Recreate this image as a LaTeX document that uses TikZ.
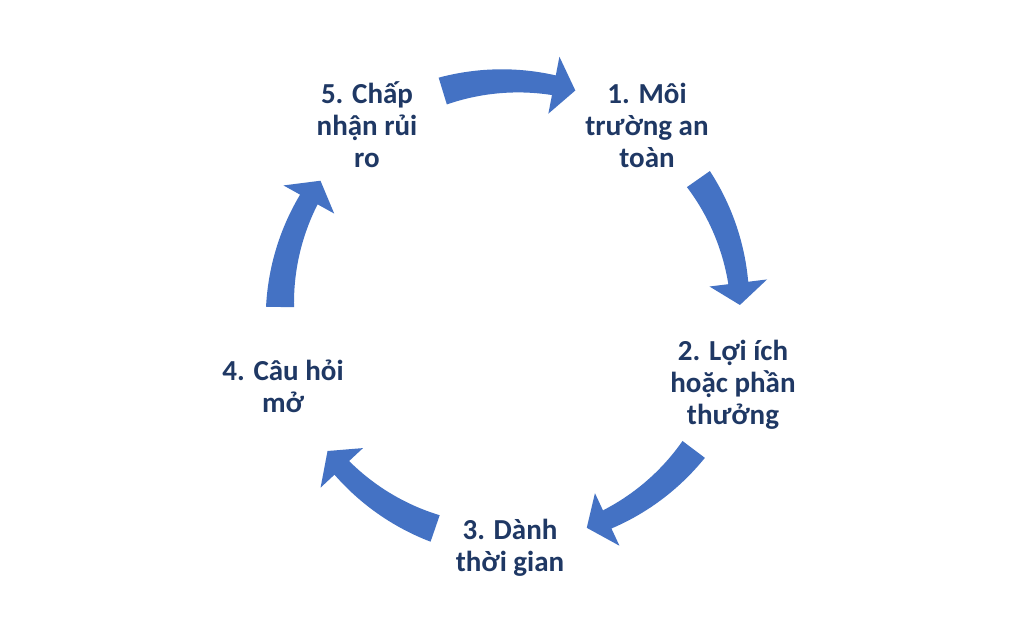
\documentclass[tikz,border=0pt]{standalone}
\usepackage{fontspec}
\setmainfont{Carlito}
\definecolor{arrowblue}{HTML}{4472C4}
\definecolor{textnavy}{HTML}{1F3864}
\tikzset{
  lbl/.style={align=center, text=textnavy, font=\bfseries\fontsize{29}{32}\selectfont, inner sep=0pt},
  blockarrow/.style={fill=arrowblue, draw=none}
}
\begin{document}
\begin{tikzpicture}[x=1pt,y=1pt]
\useasboundingbox[fill=white] (-510,-329) rectangle (514,311);
% labels
\node[lbl] (l1) at (137,186) {1. Môi\\trường an\\toàn};
\node[lbl] (l2) at (223,-74) {2. Lợi ích\\hoặc phần\\thưởng};
\node[lbl] (l3) at (0,-237) {3. Dành\\thời gian};
\node[lbl] (l4) at (-227,-75) {4. Câu hỏi\\mở};
\node[lbl] (l5) at (-143,186) {5. Chấp\\nhận rủi\\ro};
% curved, slightly tapering block arrows
\foreach \m in {90,18,-54,-126,162} {
  \pgfmathsetmacro\aa{\m+17}
  \pgfmathsetmacro\ab{\m-16.5}
  \pgfmathsetmacro\ah{\m-16.5+5.5}
  \fill[blockarrow]
     plot[domain=\aa:\ah, samples=24] (\x:{230+14-4*(\aa-\x)/(\aa-\ah)})
     -- (\ah:259) -- (\ab:230) -- (\ah:201)
     -- plot[domain=\ah:\aa, samples=24] (\x:{230-14+4*(\aa-\x)/(\aa-\ah)})
     -- cycle;
}
\end{tikzpicture}
\end{document}
